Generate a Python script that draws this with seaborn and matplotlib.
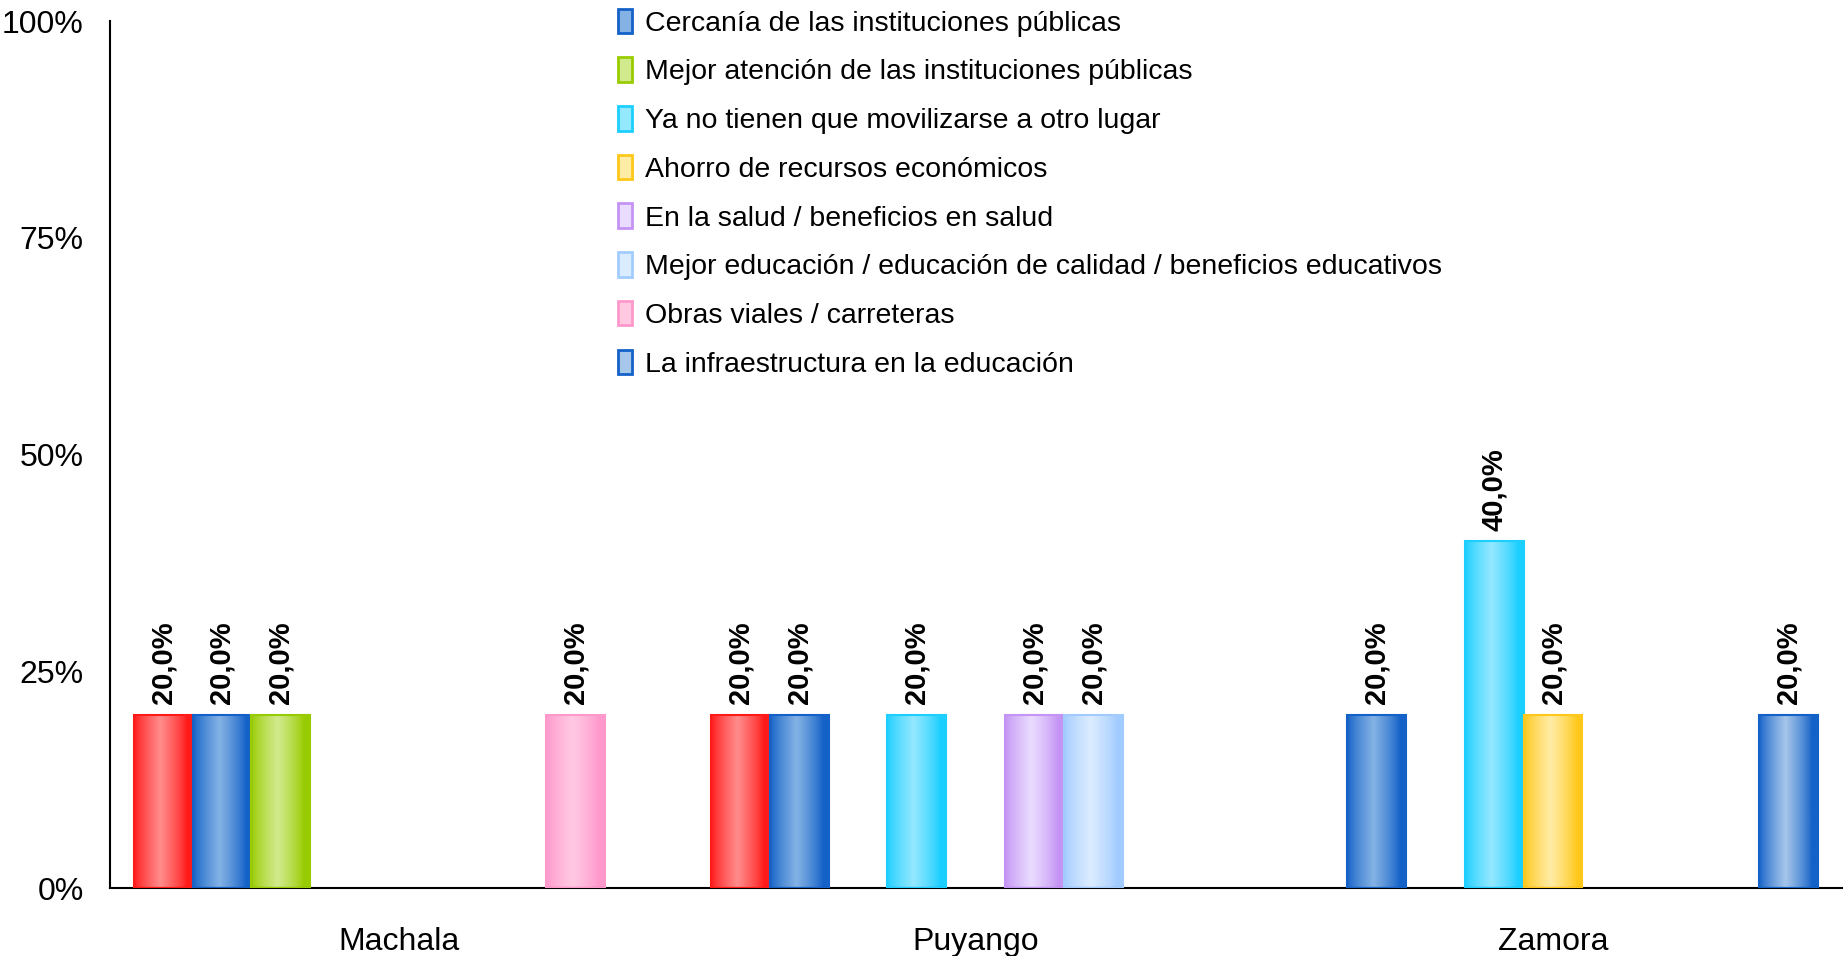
import numpy as np
import pandas as pd
import matplotlib
matplotlib.use("Agg")
import matplotlib.pyplot as plt
from matplotlib.patches import Patch
from matplotlib.colors import to_rgb
import seaborn as sns

# Data (percent of respondents)
cities = ["Machala", "Puyango", "Zamora"]
series = [
    "Otros",
    "Cercanía de las instituciones públicas",
    "Mejor atención de las instituciones públicas",
    "Ya no tienen que movilizarse a otro lugar",
    "Ahorro de recursos económicos",
    "En la salud / beneficios en salud",
    "Mejor educación / educación de calidad / beneficios educativos",
    "Obras viales / carreteras",
    "La infraestructura en la educación",
]
otros = [20, 20, 0]
cercania = [20, 20, 20]
atencion = [20, 0, 0]
movilizarse = [0, 20, 40]
ahorro = [0, 0, 20]
salud = [0, 20, 0]
educacion = [0, 20, 0]
obras = [20, 0, 0]
infraestructura = [0, 0, 20]
values = [otros, cercania, atencion, movilizarse, ahorro, salud, educacion, obras, infraestructura]

# (edge colour, centre colour) for the cylinder-like gradient
colors = [
    ("#ff1a1a", "#ff8c8c"),
    ("#1462c8", "#84b2e4"),
    ("#99cc00", "#d2ea8e"),
    ("#1ccfff", "#94e8ff"),
    ("#ffc81a", "#ffeca6"),
    ("#c494f4", "#eadcff"),
    ("#a2ccff", "#dcecff"),
    ("#ff99cc", "#ffc9e2"),
    ("#1462c8", "#a6c6ea"),
]

rows = []
for s, vals in zip(series, values):
    for c, v in zip(cities, vals):
        rows.append({"city": c, "serie": s, "pct": v / 100})
df = pd.DataFrame(rows)

sns.set_style("white")
plt.rcParams["font.family"] = ["Liberation Sans", "DejaVu Sans"]
plt.rcParams["text.color"] = "black"
plt.rcParams["xtick.color"] = "black"
plt.rcParams["ytick.color"] = "black"

fig = plt.figure(figsize=(18.49, 9.56), dpi=100)
ax = fig.add_axes([0.0595, 0.071, 0.9365, 0.907])

sns.barplot(data=df, x="city", y="pct", hue="serie", hue_order=series,
            order=cities, width=0.918, gap=0, palette=[c[0] for c in colors],
            legend=False, ax=ax, linewidth=0)

t = np.linspace(0, 1, 64)
prof = np.clip(1 - np.abs(t - 0.45) / 0.45, 0, 1) ** 0.8
for container, (edge, centre) in zip(ax.containers, colors):
    e = np.array(to_rgb(edge))
    c = np.array(to_rgb(centre))
    grad = (e[None, :] * (1 - prof[:, None]) + c[None, :] * prof[:, None])[None, :, :]
    for bar in container:
        h = bar.get_height()
        if h <= 0:
            bar.set_visible(False)
            continue
        x0 = bar.get_x()
        w = bar.get_width()
        ax.imshow(grad, extent=[x0, x0 + w, 0, h], aspect="auto",
                  interpolation="bilinear", zorder=2)
        bar.set_facecolor("none")
        bar.set_edgecolor(edge)
        bar.set_linewidth(1.5)
        bar.set_zorder(3)
        lbl = f"{h * 100:.1f}".replace(".", ",") + "%"
        ax.text(x0 + w / 2, h + 0.012, lbl, rotation=90, ha="center", va="bottom",
                fontsize=21, fontweight="bold", color="black")

ax.set_xlim(-0.5, 2.5)
ax.set_ylim(0, 1)
ax.set_yticks([0, 0.25, 0.5, 0.75, 1.0])
ax.set_yticklabels(["0%", "25%", "50%", "75%", "100%"], fontsize=23)
ax.set_xticks([-0.5, 0.5, 1.5, 2.5])
ax.set_xticklabels([])
ax.set_xticks([0, 1, 2], minor=True)
ax.set_xticklabels(cities, minor=True, fontsize=23)
ax.tick_params(axis="x", which="major", length=14, width=1.5, direction="out", color="black")
ax.tick_params(axis="x", which="minor", length=0, pad=28)
ax.tick_params(axis="y", length=10, width=1.5, direction="out", color="black", pad=9)
ax.set_xlabel("")
ax.set_ylabel("")
sns.despine(ax=ax)
for sp in ["left", "bottom"]:
    ax.spines[sp].set_color("black")
    ax.spines[sp].set_linewidth(1.5)

handles = [Patch(facecolor=c[1], edgecolor=c[0], linewidth=2) for c in colors[1:]]
fig.legend(handles, series[1:], loc="upper left", bbox_to_anchor=(0.334, 0.991),
           frameon=False, fontsize=20.5, handlelength=0.5, handleheight=0.95,
           handletextpad=0.45, labelspacing=0.725, borderpad=0, borderaxespad=0)

fig.savefig("out.png", dpi=100, facecolor="white")
